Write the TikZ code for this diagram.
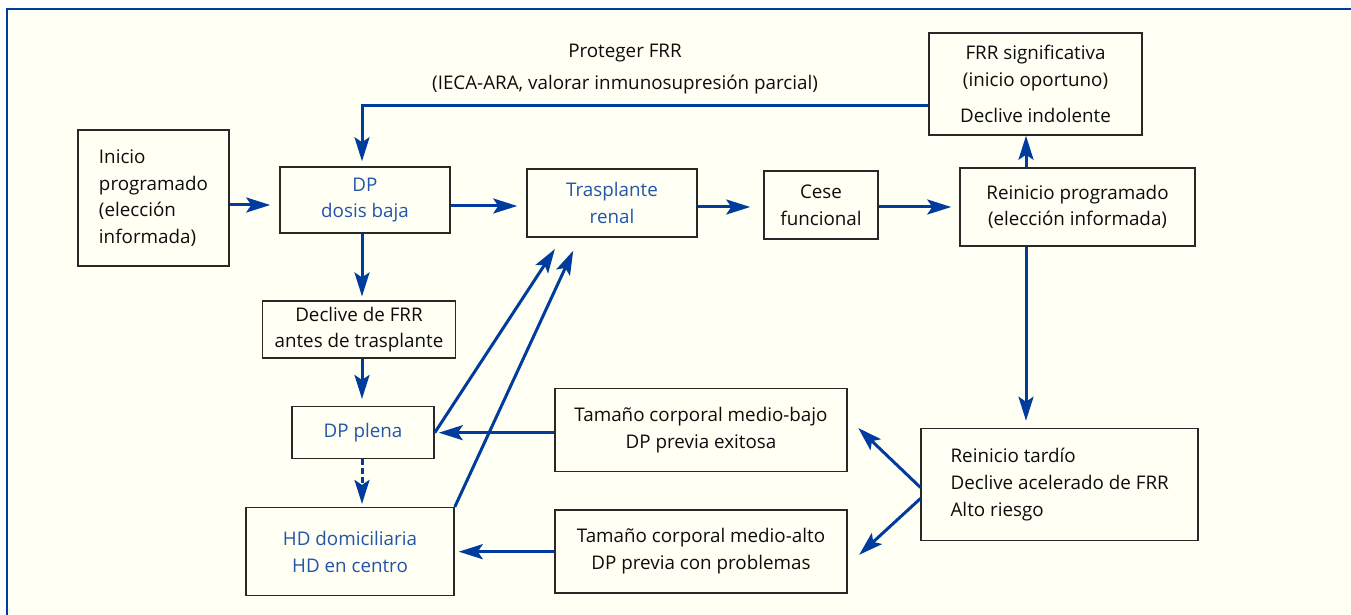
\documentclass[tikz,border=0pt]{standalone}
\usepackage{fontspec}
\setmainfont{Open Sans}
\usetikzlibrary{arrows.meta}
\definecolor{lineblue}{RGB}{0,60,158}
\definecolor{textblue}{RGB}{35,85,170}
\definecolor{cream}{RGB}{255,255,243}
\definecolor{boxgray}{RGB}{40,40,40}
\begin{document}
\begin{tikzpicture}[x=1pt,y=1pt]
	\tikzstyle{every node}+=[inner sep=0pt, font=\fontsize{18.8pt}{26.6pt}\selectfont, text=black!95]
	\tikzstyle{box}=[draw=boxgray, line width=1.5pt, align=center]
	\tikzstyle{arr}=[lineblue, line width=3pt, -{Stealth[length=24pt,width=15pt,inset=5pt]}]
	\useasboundingbox (0,0) rectangle (1351,615);
	\fill[cream] (7,606) rectangle (1351,0);
	\draw[lineblue, line width=2.8pt] (7,0) -- (7,606) -- (1351,606);
	% boxes
	\node[box, minimum width=151pt, minimum height=136pt, align=left] (inicio) at (153.5,417) {Inicio\\programado\\(elección\\informada)};
	\node[box, minimum width=170pt, minimum height=66pt, text=textblue] (dp) at (365,415) {DP\\dosis baja};
	\node[box, minimum width=170pt, minimum height=68pt, text=textblue] (trasplante) at (612,412) {Trasplante\\renal};
	\node[box, minimum width=114pt, minimum height=68pt] (cese) at (821,410) {Cese\\funcional};
	\node[box, minimum width=235pt, minimum height=78pt] (reinicio) at (1077.5,408) {Reinicio programado\\(elección informada)};
	\node[box, minimum width=213pt, minimum height=102pt] (frr) at (1035.5,531) {FRR significativa\\(inicio oportuno)\\[10pt]Declive indolente};
	\node[box, minimum width=193pt, minimum height=57pt] (declive) at (359,285.3) {Declive de FRR\\antes de trasplante};
	\node[box, minimum width=142pt, minimum height=52pt, text=textblue] (dpplena) at (363,182.3) {DP plena};
	\node[box, minimum width=208pt, minimum height=88pt, text=textblue] (hd) at (350,63.3) {HD domiciliaria\\HD en centro};
	\node[box, minimum width=292pt, minimum height=83pt] (bajo) at (701,185) {Tamaño corporal medio-bajo\\DP previa exitosa};
	\node[box, minimum width=292pt, minimum height=83pt] (alto) at (701,63.7) {Tamaño corporal medio-alto\\DP previa con problemas};
	\node[box, minimum width=277pt, minimum height=112pt, align=left] (tardio) at (1059.7,130.5) {Reinicio tardío\\Declive acelerado de FRR\\Alto riesgo};
	\node[align=center] (proteger) at (625,546) {Proteger FRR\\[5pt](IECA-ARA, valorar inmunosupresión parcial)};
	% top row
	\draw[arr, shorten >=9pt] ([yshift=-7pt]inicio.east) -- ([yshift=-5pt]dp.west);
	\draw[arr, shorten >=9pt] ([yshift=-6pt]dp.east) -- ([yshift=-3pt]trasplante.west);
	\draw[arr, shorten >=13pt] ([yshift=-4pt]trasplante.east) -- ([yshift=-2pt]cese.west);
	\draw[arr, shorten >=8pt] ([yshift=-2pt]cese.east) -- (reinicio.west);
	\draw[arr] ([xshift=-51.5pt]reinicio.north) -- ([xshift=-51.5pt]reinicio.north |- frr.south);
	\draw[arr, shorten >=5pt] ([yshift=-22pt]frr.west) -| ([xshift=-3pt]dp.north);
	% right side
	\draw[arr, shorten >=7pt] ([xshift=-51.5pt]reinicio.south) -- ([xshift=-51.5pt]reinicio.south |- tardio.north);
	\draw[arr, shorten >=14.5pt] ([yshift=-3pt]tardio.west) -- ([yshift=12pt]bajo.east);
	\draw[arr, shorten >=15.5pt] ([yshift=-14pt]tardio.west) -- ([yshift=-14pt]alto.east);
	\draw[arr, shorten >=4pt] (bajo.west |- dpplena.east) -- (dpplena.east);
	\draw[arr, shorten >=4pt] (alto.west |- hd.east) -- (hd.east);
	% left column
	\draw[arr, shorten >=4pt] ([xshift=-3pt]dp.south) -- ([xshift=-3pt]dp.south |- declive.north);
	\draw[arr, shorten >=7pt] ([xshift=3pt]declive.south) -- ([xshift=3pt]declive.south |- dpplena.north);
	\draw[arr, dash pattern=on 6pt off 3pt, shorten >=3pt] ([xshift=-1pt]dpplena.south) -- ([xshift=-1pt]dpplena.south |- hd.north);
	\draw[arr, shorten >=13.5pt] (dpplena.east) -- ([xshift=-49.7pt]trasplante.south);
	\draw[arr, shorten >=14.3pt] (hd.north east) -- ([xshift=-32.8pt]trasplante.south);
\end{tikzpicture}
\end{document}
